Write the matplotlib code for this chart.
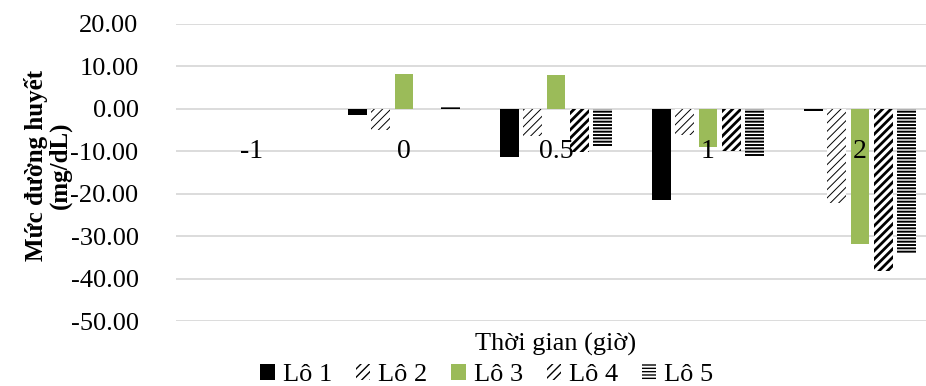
import matplotlib.pyplot as plt
from matplotlib.patches import Patch

plt.rcParams['font.family'] = ['Liberation Serif', 'DejaVu Serif']

# data
times = ['-1', '0', '0.5', '1', '2']
lo1 = [0, -1.4, -11.4, -21.5, -0.4]
lo2 = [0, -5.0, -6.5, -6.1, -22.1]
lo3 = [0, 8.3, 8.0, -9.1, -31.9]
lo4 = [0, 0, -10.1, -9.9, -38.3]
lo5 = [0, 0.5, -8.9, -11.0, -34.1]
series = ['Lô 1', 'Lô 2', 'Lô 3', 'Lô 4', 'Lô 5']

# look of each series: facecolor, hatch, hatch line width
styles = [
    ('black', None, 1.0),
    ('white', '////', 0.7),
    ('#9BBB59', None, 1.0),
    ('white', '////', 2.0),
    ('white', '-----', 1.4),
]

fig = plt.figure(figsize=(9.26, 3.86), dpi=100)
ax = fig.add_axes([176 / 926, 65 / 386, 760 / 926, 297 / 386])

width = 0.122
step = 0.153
handles = []
for k, vals in enumerate([lo1, lo2, lo3, lo4, lo5]):
    fc, hatch, hlw = styles[k]
    xs = [i + (k - 2) * step for i in range(len(times))]
    bars = ax.bar(xs, vals, width, color=fc, hatch=hatch, edgecolor='black',
                  linewidth=0, zorder=3)
    for b in bars:
        if hasattr(b, 'set_hatch_linewidth'):
            b.set_hatch_linewidth(hlw)
    h = Patch(facecolor=fc, hatch=hatch, edgecolor='black', linewidth=0)
    if hasattr(h, 'set_hatch_linewidth'):
        h.set_hatch_linewidth(hlw)
    handles.append(h)

ax.set_xlim(-0.5, len(times) - 0.5)
ax.set_ylim(-50, 20)
ax.set_yticks(range(-50, 21, 10))
ax.set_yticklabels([f'{v:.2f}' for v in range(-50, 21, 10)], fontsize=19)
ax.tick_params(axis='y', length=0, pad=27)
ax.set_xticks([])
ax.yaxis.grid(True, color='#d9d9d9', linewidth=1.3, zorder=0)
ax.set_axisbelow(True)
for s in ax.spines.values():
    s.set_visible(False)

# category labels sit just under the zero line
for i, t in enumerate(times):
    ax.text(i, -10, t, ha='center', va='center', fontsize=20, zorder=4)

fig.text(556 / 926, 1 - 344 / 386, 'Thời gian (giờ)', ha='center', va='center',
         fontsize=19)
fig.text(48 / 926, 1 - 165 / 386, 'Mức đường huyết\n(mg/dL)', rotation=90,
         ha='center', va='center', fontsize=18, fontweight='bold',
         multialignment='center', linespacing=1.0)

fig.legend(handles, series, loc='center', ncol=5,
           bbox_to_anchor=(487 / 926, 1 - 375 / 386), frameon=False,
           fontsize=19, handlelength=0.55, handleheight=0.55,
           handletextpad=0.3, columnspacing=0.9, borderpad=0)

fig.savefig('out.png', dpi=100)
